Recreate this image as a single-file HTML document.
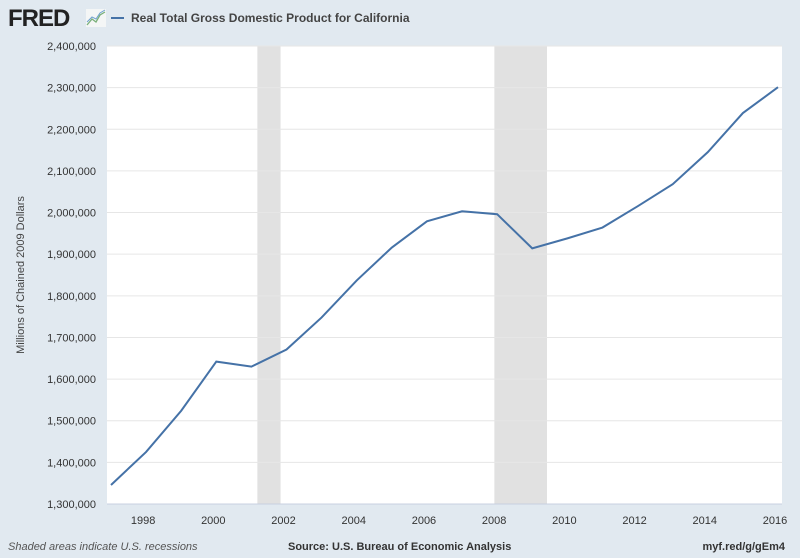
<!DOCTYPE html>
<html><head><meta charset="utf-8"><style>
body{margin:0;background:#e1e9f0;font-family:"Liberation Sans",sans-serif;}
svg{display:block}
</style></head><body>
<svg width="800" height="558" id="c">
<rect width="800" height="558" fill="#e1e9f0"/>
<text x="8" y="26" font-size="24" font-weight="bold" fill="#222" letter-spacing="-1">FRED</text>
<rect x="86" y="9" width="20" height="18" fill="#f4f6f6"/>
<polyline points="87,25 92,19 96,22 100,15 105,12" fill="none" stroke="#7ab07a" stroke-width="1.3"/>
<polyline points="87,22 92,17 96,19 100,13 105,10" fill="none" stroke="#6fa0d0" stroke-width="1"/>
<line x1="111" y1="18" x2="124" y2="18" stroke="#4572a7" stroke-width="2"/>
<text x="131" y="22" font-size="12" font-weight="bold" fill="#444">Real Total Gross Domestic Product for California</text>
<rect x="107" y="46" width="675" height="458" fill="#fff"/>
<g id="rec"></g><g id="grid"></g><g id="xt"></g>
<path id="line" fill="none" stroke="#4572a7" stroke-width="2"/>
<text transform="translate(24,275) rotate(-90)" text-anchor="middle" font-size="11" fill="#444">Millions of Chained 2009 Dollars</text>
<text x="8" y="550" font-size="11" font-style="italic" fill="#555">Shaded areas indicate U.S. recessions</text>
<text x="288" y="550" font-size="11" font-weight="bold" fill="#333">Source: U.S. Bureau of Economic Analysis</text>
<text x="785" y="550" text-anchor="end" font-size="11" font-weight="bold" fill="#333">myf.red/g/gEm4</text>
</svg>
<script>
const years=[1997,1998,1999,2000,2001,2002,2003,2004,2005,2006,2007,2008,2009,2010,2011,2012,2013,2014,2015,2016];
const values=[1345700,1425000,1524000,1642000,1630000,1671000,1748000,1837000,1916000,1979000,2003000,1996000,1914000,1938000,1964000,2015000,2068000,2145000,2239000,2301000];
const yTicks=[1300000,1400000,1500000,1600000,1700000,1800000,1900000,2000000,2100000,2200000,2300000,2400000];
const xTicks=[1998,2000,2002,2004,2006,2008,2010,2012,2014,2016];
const recStarts=[2001.17,2007.92];
const recEnds=[2001.83,2009.42];
const NS="http://www.w3.org/2000/svg";
const x=v=>111+(v-1997)*(778-111)/19;
const y=v=>504-(v-1300000)/1100000*458;
function mk(t,a,p){const e=document.createElementNS(NS,t);for(const k in a)e.setAttribute(k,a[k]);p.appendChild(e);return e;}
const rec=document.getElementById('rec');
recStarts.forEach((s,i)=>{const r=mk('rect',{x:x(s),y:46,width:x(recEnds[i])-x(s),height:458,fill:'#e1e1e1'},rec);

});
const g=document.getElementById('grid');
yTicks.forEach(v=>{const l=mk('line',{x1:107,x2:782,y1:y(v),y2:y(v),stroke:v==1300000?'#c8d0e0':'#e6e6e6'},g);


const t=mk('text',{x:96,y:y(v)+4,'text-anchor':'end','font-size':11,fill:'#333'},g);


t.textContent=v.toLocaleString('en-US');});
const xt=document.getElementById('xt');
xTicks.forEach(v=>{const t=mk('text',{x:x(v)-3,y:524,'text-anchor':'middle','font-size':11,fill:'#333'},xt);


t.textContent=v;});
document.getElementById('line').setAttribute('d',years.map((yr,i)=>(i?'L':'M')+x(yr)+','+y(values[i])).join(' '));
</script>
</body></html>
